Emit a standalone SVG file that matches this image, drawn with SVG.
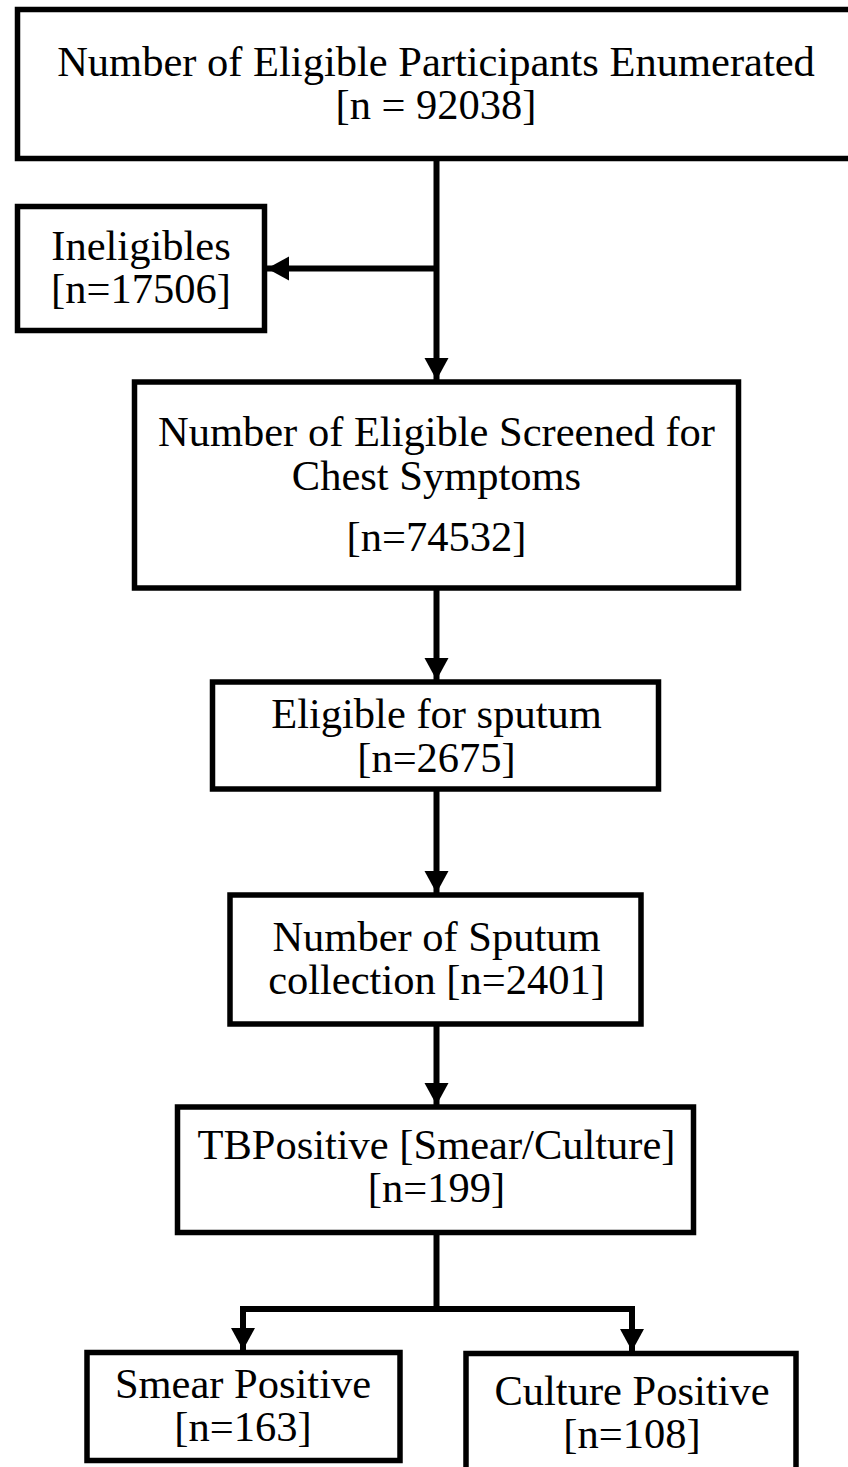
<svg xmlns="http://www.w3.org/2000/svg" width="848" height="1467" viewBox="0 0 848 1467">
<defs>
<style>
.box{fill:#fff;stroke:#000;stroke-width:5.5}
.t{font-family:"Liberation Serif","Times New Roman",serif;font-size:42.5px;fill:#000;text-anchor:middle}
.c{fill:none;stroke:#000;stroke-width:6}
</style>
<marker id="ah" markerUnits="userSpaceOnUse" markerWidth="26" markerHeight="26" refX="22" refY="12" orient="auto">
<path d="M0,0 L22,12 L0,24 Z" fill="#000"/>
</marker>
</defs>
<rect width="848" height="1467" fill="#fff"/>
<g id="connectors">
<path class="c" d="M436.5,158 V380" marker-end="url(#ah)"/>
<path class="c" d="M436.5,268.5 H267" marker-end="url(#ah)"/>
<path class="c" d="M436.5,588 V680" marker-end="url(#ah)"/>
<path class="c" d="M436.5,790 V893" marker-end="url(#ah)"/>
<path class="c" d="M436.5,1025 V1105" marker-end="url(#ah)"/>
<path class="c" d="M436.5,1232 V1309"/>
<path class="c" d="M240,1309 H635"/>
<path class="c" d="M243,1306 V1350" marker-end="url(#ah)"/>
<path class="c" d="M632,1306 V1351" marker-end="url(#ah)"/>
</g>
<g id="n1">
<rect class="box" x="17.5" y="9.5" width="840" height="149"/>
<text class="t" x="436" y="76">Number of Eligible Participants Enumerated</text>
<text class="t" x="436" y="119">[n = 92038]</text>
</g>
<g id="n2">
<rect class="box" x="17.5" y="206.5" width="247" height="124"/>
<text class="t" x="141" y="260">Ineligibles</text>
<text class="t" x="141" y="303">[n=17506]</text>
</g>
<g id="n3">
<rect class="box" x="134.5" y="382" width="604" height="206"/>
<text class="t" x="436.5" y="446">Number of Eligible Screened for</text>
<text class="t" x="436.5" y="490">Chest Symptoms</text>
<text class="t" x="436.5" y="551">[n=74532]</text>
</g>
<g id="n4">
<rect class="box" x="212.5" y="682" width="446" height="107"/>
<text class="t" x="436.5" y="728">Eligible for sputum</text>
<text class="t" x="436.5" y="772">[n=2675]</text>
</g>
<g id="n5">
<rect class="box" x="230" y="895" width="411" height="129"/>
<text class="t" x="436.5" y="951">Number of Sputum</text>
<text class="t" x="436.5" y="994">collection [n=2401]</text>
</g>
<g id="n6">
<rect class="box" x="177.5" y="1107" width="516" height="125.5"/>
<text class="t" x="436.5" y="1159">TBPositive [Smear/Culture]</text>
<text class="t" x="436.5" y="1202">[n=199]</text>
</g>
<g id="n7">
<rect class="box" x="87" y="1352.5" width="313" height="108"/>
<text class="t" x="243" y="1398">Smear Positive</text>
<text class="t" x="243" y="1441">[n=163]</text>
</g>
<g id="n8">
<rect class="box" x="466" y="1353.5" width="330" height="120"/>
<text class="t" x="632" y="1405">Culture Positive</text>
<text class="t" x="632" y="1448">[n=108]</text>
</g>
</svg>
